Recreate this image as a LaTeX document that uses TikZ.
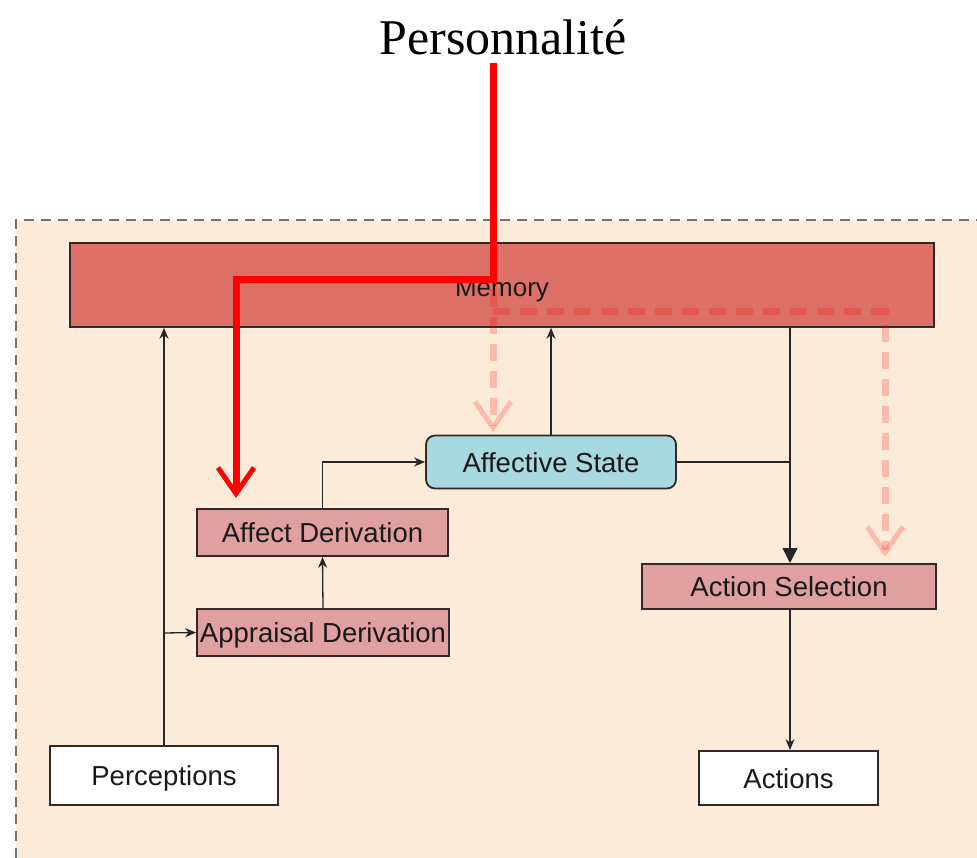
\documentclass[tikz,border=0pt]{standalone}
\usepackage{fontspec}
\setmainfont{Liberation Serif}
\setsansfont{Liberation Sans}
\usetikzlibrary{arrows.meta}
\definecolor{bgpeach}{RGB}{253,235,217}
\definecolor{memred}{RGB}{220,112,102}
\definecolor{boxpink}{RGB}{224,160,160}
\definecolor{boxblue}{RGB}{168,216,224}
\definecolor{edgegray}{RGB}{50,40,40}
\tikzset{
  blk/.style={draw=edgegray, line width=1.8pt, font=\sffamily\fontsize{27.5}{30}\selectfont, inner sep=0pt, text=black!90, text height=20pt, text depth=0pt},
  conn/.style={draw=black!85, line width=1.3pt, -{Stealth[length=11pt,width=9pt]}},
  plain/.style={draw=black!85, line width=1.3pt},
  redline/.style={draw=red, line width=7pt, -{Straight Barb[length=26pt,width=36pt,line width=5pt]}},
  pinkline/.style={draw=red, draw opacity=0.21, line width=7pt, dash pattern=on 17pt off 10pt, -{Straight Barb[length=26pt,width=36pt,line width=5pt]}}
}
\begin{document}
\begin{tikzpicture}[x=1pt,y=-1pt]
\useasboundingbox (0,0) rectangle (977,858);
\fill[bgpeach] (16,220) rectangle (977,858);
\draw[gray!90!black, line width=2.5pt, dash pattern=on 10pt off 7pt] (16,858) -- (16,220) -- (977,220);
\node (title) at (503,37) {\fontsize{50}{56}\selectfont Personnalité};
\node[blk, fill=memred, minimum width=864pt, minimum height=84pt, font=\sffamily\fontsize{26}{30}\selectfont, text height=23pt] (mem) at (502,285) {Memory};
\node[blk, fill=boxblue, rounded corners=9pt, minimum width=250pt, minimum height=53pt] (aff) at (551,462) {Affective State};
\node[blk, fill=boxpink, minimum width=251pt, minimum height=47pt] (ad) at (322.5,532.5) {Affect Derivation};
\node[blk, fill=boxpink, minimum width=252pt, minimum height=47pt] (ap) at (323,632.5) {Appraisal Derivation};
\node[blk, fill=boxpink, minimum width=294pt, minimum height=45pt] (as) at (789,586.5) {Action Selection};
\node[blk, fill=white, minimum width=228pt, minimum height=59pt] (per) at (164,775.5) {Perceptions};
\node[blk, fill=white, minimum width=179pt, minimum height=54pt] (act) at (788.5,778) {Actions};
% black connectors
\draw[conn] (per.north -| 164,0) -- (164,327.8);
\coordinate (j1) at (164,633);
\draw[conn] (j1) -- (ap.west);
\draw[conn] (ap.north) -- (ad.south);
\draw[conn] (ad.north) |- (aff.west);
\draw[conn] (aff.north) -- (551,327.8);
\coordinate (j2) at (790,462);
\draw[plain] (aff.east) -- (j2);
\draw[draw=black!85, line width=1.3pt, -{Triangle[length=15pt,width=15pt]}] (790,327.8) -- (790,563);
\draw[conn] (as.south -| 790,0) -- (790,750);
% red personality line
\coordinate (r0) at (493,63);
\draw[redline] (r0) -- (493,280) -- (236,280) -- (236,498);
% pink dashed lines
\coordinate (p0) at (493,290);
\draw[pinkline] (p0) -- (493,432);
\draw[pinkline] (493,312) -- (885,312) -- (885,557);
\end{tikzpicture}
\end{document}
